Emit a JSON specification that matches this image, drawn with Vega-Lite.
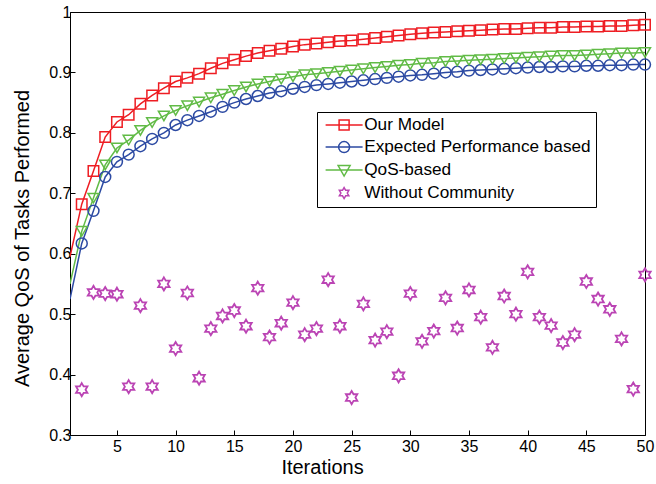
{
 "$schema": "https://vega.github.io/schema/vega-lite/v6.json",
 "width": 575,
 "height": 423,
 "autosize": "none",
 "padding": {"left": 70, "top": 12, "right": 11, "bottom": 49},
 "background": "white",
 "config": {
  "view": {"stroke": "black", "strokeWidth": 1},
  "font": "Liberation Sans",
  "axis": {"domainColor": "black", "tickColor": "black", "labelColor": "black", "titleColor": "black", "grid": false, "labelFont": "Liberation Sans", "titleFont": "Liberation Sans", "titleFontWeight": "normal", "labelFontSize": 16, "titleFontSize": 20, "tickSize": -5, "labelFlush": false}
 },
 "data": {"values": [
  {"x":1,"Our Model":0.595,"Expected Performance based":0.525,"QoS-based":0.550},
  {"x":2,"Our Model":0.682,"Expected Performance based":0.617,"QoS-based":0.637,"Without Community":0.375},
  {"x":3,"Our Model":0.737,"Expected Performance based":0.671,"QoS-based":0.692,"Without Community":0.536},
  {"x":4,"Our Model":0.793,"Expected Performance based":0.727,"QoS-based":0.747,"Without Community":0.534},
  {"x":5,"Our Model":0.818,"Expected Performance based":0.752,"QoS-based":0.775,"Without Community":0.533},
  {"x":6,"Our Model":0.830,"Expected Performance based":0.764,"QoS-based":0.788,"Without Community":0.380},
  {"x":7,"Our Model":0.848,"Expected Performance based":0.778,"QoS-based":0.804,"Without Community":0.514},
  {"x":8,"Our Model":0.862,"Expected Performance based":0.790,"QoS-based":0.817,"Without Community":0.380},
  {"x":9,"Our Model":0.874,"Expected Performance based":0.800,"QoS-based":0.828,"Without Community":0.550},
  {"x":10,"Our Model":0.885,"Expected Performance based":0.813,"QoS-based":0.837,"Without Community":0.443},
  {"x":11,"Our Model":0.891,"Expected Performance based":0.821,"QoS-based":0.845,"Without Community":0.535},
  {"x":12,"Our Model":0.898,"Expected Performance based":0.828,"QoS-based":0.851,"Without Community":0.394},
  {"x":13,"Our Model":0.907,"Expected Performance based":0.835,"QoS-based":0.858,"Without Community":0.476},
  {"x":14,"Our Model":0.915,"Expected Performance based":0.843,"QoS-based":0.864,"Without Community":0.497},
  {"x":15,"Our Model":0.921,"Expected Performance based":0.850,"QoS-based":0.870,"Without Community":0.506},
  {"x":16,"Our Model":0.927,"Expected Performance based":0.856,"QoS-based":0.876,"Without Community":0.480},
  {"x":17,"Our Model":0.932,"Expected Performance based":0.861,"QoS-based":0.881,"Without Community":0.543},
  {"x":18,"Our Model":0.936,"Expected Performance based":0.866,"QoS-based":0.885,"Without Community":0.462},
  {"x":19,"Our Model":0.939,"Expected Performance based":0.869,"QoS-based":0.889,"Without Community":0.485},
  {"x":20,"Our Model":0.943,"Expected Performance based":0.873,"QoS-based":0.893,"Without Community":0.519},
  {"x":21,"Our Model":0.946,"Expected Performance based":0.876,"QoS-based":0.896,"Without Community":0.466},
  {"x":22,"Our Model":0.948,"Expected Performance based":0.879,"QoS-based":0.898,"Without Community":0.476},
  {"x":23,"Our Model":0.950,"Expected Performance based":0.881,"QoS-based":0.900,"Without Community":0.557},
  {"x":24,"Our Model":0.952,"Expected Performance based":0.883,"QoS-based":0.902,"Without Community":0.480},
  {"x":25,"Our Model":0.953,"Expected Performance based":0.885,"QoS-based":0.904,"Without Community":0.362},
  {"x":26,"Our Model":0.955,"Expected Performance based":0.887,"QoS-based":0.906,"Without Community":0.517},
  {"x":27,"Our Model":0.957,"Expected Performance based":0.889,"QoS-based":0.908,"Without Community":0.457},
  {"x":28,"Our Model":0.959,"Expected Performance based":0.891,"QoS-based":0.910,"Without Community":0.471},
  {"x":29,"Our Model":0.961,"Expected Performance based":0.893,"QoS-based":0.912,"Without Community":0.398},
  {"x":30,"Our Model":0.963,"Expected Performance based":0.895,"QoS-based":0.913,"Without Community":0.534},
  {"x":31,"Our Model":0.965,"Expected Performance based":0.896,"QoS-based":0.915,"Without Community":0.455},
  {"x":32,"Our Model":0.966,"Expected Performance based":0.898,"QoS-based":0.916,"Without Community":0.472},
  {"x":33,"Our Model":0.967,"Expected Performance based":0.900,"QoS-based":0.918,"Without Community":0.527},
  {"x":34,"Our Model":0.968,"Expected Performance based":0.901,"QoS-based":0.919,"Without Community":0.477},
  {"x":35,"Our Model":0.969,"Expected Performance based":0.903,"QoS-based":0.920,"Without Community":0.540},
  {"x":36,"Our Model":0.970,"Expected Performance based":0.904,"QoS-based":0.921,"Without Community":0.495},
  {"x":37,"Our Model":0.971,"Expected Performance based":0.905,"QoS-based":0.922,"Without Community":0.445},
  {"x":38,"Our Model":0.972,"Expected Performance based":0.906,"QoS-based":0.923,"Without Community":0.530},
  {"x":39,"Our Model":0.972,"Expected Performance based":0.907,"QoS-based":0.924,"Without Community":0.500},
  {"x":40,"Our Model":0.973,"Expected Performance based":0.908,"QoS-based":0.925,"Without Community":0.570},
  {"x":41,"Our Model":0.974,"Expected Performance based":0.909,"QoS-based":0.926,"Without Community":0.495},
  {"x":42,"Our Model":0.974,"Expected Performance based":0.909,"QoS-based":0.927,"Without Community":0.481},
  {"x":43,"Our Model":0.975,"Expected Performance based":0.910,"QoS-based":0.928,"Without Community":0.453},
  {"x":44,"Our Model":0.975,"Expected Performance based":0.910,"QoS-based":0.928,"Without Community":0.466},
  {"x":45,"Our Model":0.976,"Expected Performance based":0.911,"QoS-based":0.929,"Without Community":0.554},
  {"x":46,"Our Model":0.976,"Expected Performance based":0.911,"QoS-based":0.930,"Without Community":0.525},
  {"x":47,"Our Model":0.977,"Expected Performance based":0.912,"QoS-based":0.931,"Without Community":0.508},
  {"x":48,"Our Model":0.977,"Expected Performance based":0.912,"QoS-based":0.932,"Without Community":0.459},
  {"x":49,"Our Model":0.978,"Expected Performance based":0.913,"QoS-based":0.932,"Without Community":0.376},
  {"x":50,"Our Model":0.979,"Expected Performance based":0.913,"QoS-based":0.933,"Without Community":0.565}
 ]},
 "transform": [
  {"fold": ["Our Model", "Expected Performance based", "QoS-based", "Without Community"], "as": ["s", "v"]},
  {"filter": "datum.v != null"}
 ],
 "encoding": {
  "x": {"field": "x", "type": "quantitative", "scale": {"domain": [1, 50], "nice": false, "zero": false},
        "axis": {"values": [5,10,15,20,25,30,35,40,45,50], "title": "Iterations", "titleX": 252, "titleY": 32, "titleBaseline": "middle", "labelPadding": 8}},
  "y": {"field": "v", "type": "quantitative", "scale": {"domain": [0.3, 1], "nice": false, "zero": false},
        "axis": {"values": [0.3,0.4,0.5,0.6,0.7,0.8,0.9,1], "format": ".1~f", "title": "Average QoS of Tasks Performed", "titleX": -48, "titleY": 226, "titleBaseline": "middle", "labelPadding": 4}},
  "color": {"field": "s", "type": "nominal",
   "scale": {"domain": ["Our Model", "Expected Performance based", "QoS-based", "Without Community"], "range": ["#ee1d23", "#2c4aa3", "#61bb46", "#bb44b4"]},
   "legend": {"orient": "none", "legendX": 247, "legendY": 100, "title": null, "strokeColor": "black", "fillColor": "white", "padding": 4.5,
     "labelFontSize": 17.2, "labelFont": "Liberation Sans", "labelColor": "black", "labelLimit": 0, "symbolSize": 100, "symbolStrokeWidth": 1.5,
     "symbolOffset": 14, "labelOffset": 11.5, "rowPadding": 4.0, "labelExpr": "datum.label + '\u00a0\u00a0\u00a0'",
     "encode": {"symbols": {"update": {
       "shape": {"signal": "datum.value === 'Our Model' ? 'M-3.7,0H3.7M-1,-1H1V1H-1Z' : datum.value === 'Expected Performance based' ? 'M-3.7,0H3.7M1.1,0A1.1,1.1,0,1,1,-1.1,0A1.1,1.1,0,1,1,1.1,0Z' : datum.value === 'QoS-based' ? 'M-3.7,0H3.7M-1.2,-0.9H1.2L0,1.2Z' : 'M0,-1.1L0.32,-0.55L0.95,-0.55L0.64,0L0.95,0.55L0.32,0.55L0,1.1L-0.32,0.55L-0.95,0.55L-0.64,0L-0.95,-0.55L-0.32,-0.55Z'"},
       "fill": {"value": "transparent"},
       "opacity": {"value": 1}
     }}}}
  }
 },
 "layer": [
  {"transform": [{"filter": "datum.s != 'Without Community'"}], "mark": {"type": "line", "strokeWidth": 1.5, "clip": true}},
  {"transform": [{"filter": "datum.x >= 2 && datum.s === 'Our Model'"}], "mark": {"type": "point", "filled": false, "strokeWidth": 1.5, "size": 110, "opacity": 1, "shape": "square"}},
  {"transform": [{"filter": "datum.x >= 2 && datum.s === 'Expected Performance based'"}], "mark": {"type": "point", "filled": false, "strokeWidth": 1.5, "size": 120, "opacity": 1, "shape": "circle"}},
  {"transform": [{"filter": "datum.x >= 2 && datum.s === 'QoS-based'"}], "mark": {"type": "point", "filled": false, "strokeWidth": 1.5, "size": 120, "opacity": 1, "shape": "triangle-down"}},
  {"transform": [{"filter": "datum.s === 'Without Community'"}], "mark": {"type": "point", "filled": false, "strokeWidth": 1.8, "size": 120, "opacity": 1, "shape": "M0,-1.2L0.35,-0.6L1.04,-0.6L0.69,0L1.04,0.6L0.35,0.6L0,1.2L-0.35,0.6L-1.04,0.6L-0.69,0L-1.04,-0.6L-0.35,-0.6Z"}}
 ]
}
